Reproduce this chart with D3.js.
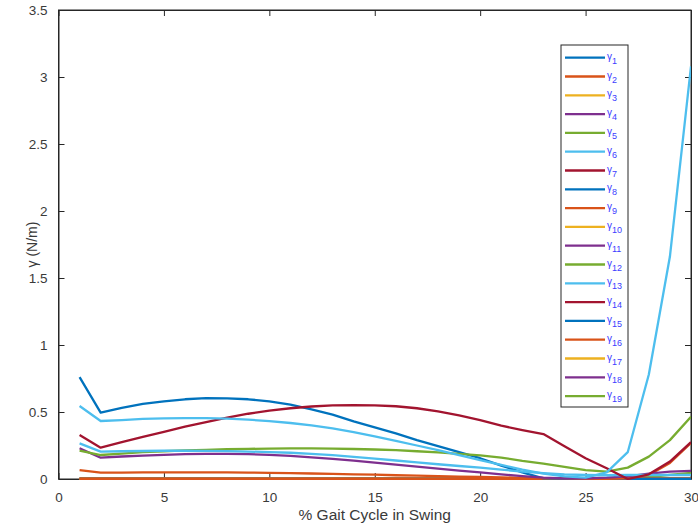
<!DOCTYPE html>
<html>
<head>
<meta charset="utf-8">
<script src="https://cdn.jsdelivr.net/npm/d3@7"></script>
<style>
  body { margin: 0; background: #fff; }
  svg { display: block; font-family: "Liberation Sans", Arial, sans-serif; }
</style>
</head>
<body>
<svg id="chart" width="698" height="529"></svg>
<script>
// % gait cycle in swing
var xValues = d3.range(1, 31);

var xTicks = [0, 5, 10, 15, 20, 25, 30];
var yTicks = [0, 0.5, 1, 1.5, 2, 2.5, 3, 3.5];

var zeros = xValues.map(function () { return 0; });

var gamma1 = [0.76, 0.495, 0.53, 0.56, 0.58, 0.595, 0.603, 0.602, 0.595, 0.58,
	0.555, 0.52, 0.48, 0.43, 0.385, 0.34, 0.29, 0.245, 0.2, 0.155,
	0.1, 0.05, 0.005, 0, 0, 0, 0, 0, 0, 0];
var gamma2 = [0.067, 0.047, 0.048, 0.049, 0.05, 0.05, 0.05, 0.049, 0.048, 0.046,
	0.044, 0.041, 0.038, 0.035, 0.032, 0.028, 0.025, 0.021, 0.018, 0.015,
	0.012, 0.009, 0.006, 0.004, 0.002, 0.002, 0.005, 0.03, 0.12, 0.27];
var gamma4 = [0.229, 0.159, 0.168, 0.175, 0.18, 0.185, 0.187, 0.187, 0.185, 0.18,
	0.172, 0.162, 0.15, 0.137, 0.122, 0.107, 0.092, 0.077, 0.063, 0.05,
	0.035, 0.022, 0.01, 0.005, 0.005, 0.01, 0.02, 0.04, 0.055, 0.06];
var gamma5 = [0.211, 0.179, 0.19, 0.2, 0.207, 0.213, 0.218, 0.222, 0.225, 0.227,
	0.228, 0.228, 0.227, 0.224, 0.22, 0.215, 0.207, 0.198, 0.188, 0.177,
	0.16, 0.135, 0.115, 0.09, 0.067, 0.055, 0.085, 0.167, 0.29, 0.465];
var gamma6 = [0.545, 0.433, 0.44, 0.448, 0.452, 0.455, 0.455, 0.45, 0.443, 0.432,
	0.418, 0.4, 0.378, 0.35, 0.318, 0.285, 0.25, 0.215, 0.178, 0.14,
	0.105, 0.07, 0.04, 0.02, 0.01, 0.05, 0.2, 0.78, 1.66, 3.08];
var gamma7 = [0.328, 0.234, 0.275, 0.315, 0.352, 0.39, 0.425, 0.458, 0.487, 0.51,
	0.528, 0.541, 0.549, 0.552, 0.55, 0.543, 0.528, 0.505, 0.475, 0.44,
	0.398, 0.365, 0.335, 0.245, 0.155, 0.08, 0, 0.035, 0.13, 0.275];
var gamma12 = [0, 0, 0, 0, 0, 0, 0, 0, 0, 0,
	0, 0, 0, 0, 0, 0, 0, 0, 0, 0,
	0, 0, 0, 0, 0, 0, 0, 0.015, 0.03, 0.045];
var gamma13 = [0.266, 0.204, 0.207, 0.209, 0.211, 0.211, 0.21, 0.208, 0.205, 0.2,
	0.196, 0.188, 0.178, 0.165, 0.152, 0.138, 0.124, 0.11, 0.097, 0.085,
	0.07, 0.055, 0.044, 0.035, 0.03, 0.028, 0.03, 0.03, 0.03, 0.03];

var seriesNames = d3.range(1, 20).map(function (i) { return "γ" + i; });
var seriesValues = [gamma1, gamma2, zeros, gamma4, gamma5, gamma6, gamma7,
	zeros, zeros, zeros, zeros, gamma12, gamma13, zeros,
	zeros, zeros, zeros, zeros, zeros];

// matlab default colour order, repeating
var colorOrder = ["#0072BD", "#D95319", "#EDB120", "#7E2F8E", "#77AC30", "#4DBEEE", "#A2142F"];

// flat lines under the others, so the orange one shows at the bottom
var drawOrder = [2, 7, 9, 10, 11, 13, 14, 16, 17, 18, 8, 15, 0, 1, 3, 4, 12, 6, 5];

var svg = d3.select("#chart");
var padLeft = 58.5, padRight = 691, padTop = 10, padBottom = 479;
var ink = "#262626";
var labelInk = "#3a3a3a";

var x = d3.scaleLinear().domain([0, 30]).range([padLeft, padRight]);
var y = d3.scaleLinear().domain([0, 3.5]).range([padBottom, padTop]);

svg.append("defs").append("clipPath").attr("id", "plotclip")
	.append("rect")
	.attr("x", padLeft).attr("y", padTop - 2)
	.attr("width", padRight - padLeft).attr("height", padBottom - padTop + 3);

// axes, matlab style ticks pointing in
var xAxis = svg.append("g")
	.attr("transform", "translate(0," + padBottom + ")")
	.call(d3.axisBottom(x).tickValues(xTicks).tickSize(-6).tickPadding(13).tickSizeOuter(0));
var xAxisTop = svg.append("g")
	.attr("transform", "translate(0," + padTop + ")")
	.call(d3.axisTop(x).tickValues(xTicks).tickSize(-6).tickFormat("").tickSizeOuter(0));
var yAxis = svg.append("g")
	.attr("transform", "translate(" + padLeft + ",0)")
	.call(d3.axisLeft(y).tickValues(yTicks).tickSize(-6).tickPadding(11).tickSizeOuter(0)
		.tickFormat(d3.format("")));
var yAxisRight = svg.append("g")
	.attr("transform", "translate(" + padRight + ",0)")
	.call(d3.axisRight(y).tickValues(yTicks).tickSize(-6).tickFormat("").tickSizeOuter(0));

[xAxis, xAxisTop, yAxis, yAxisRight].forEach(function (g) {
	g.select(".domain").attr("stroke", ink);
	g.selectAll(".tick line").attr("stroke", ink);
	g.selectAll(".tick text")
		.attr("fill", labelInk)
		.style("font-size", "13.5px")
		.style("font-family", "'Liberation Sans', Arial, sans-serif");
});

svg.append("rect")
	.attr("x", padLeft).attr("y", padTop)
	.attr("width", padRight - padLeft).attr("height", padBottom - padTop)
	.attr("fill", "none").attr("stroke", ink).attr("stroke-width", 1);

// lines
var line = d3.line()
	.x(function (d, i) { return x(xValues[i]); })
	.y(function (d) { return y(d); });

var plot = svg.append("g").attr("clip-path", "url(#plotclip)");
drawOrder.forEach(function (k) {
	plot.append("path")
		.datum(seriesValues[k])
		.attr("d", line)
		.attr("fill", "none")
		.attr("stroke", colorOrder[k % colorOrder.length])
		.attr("stroke-width", 2.3)
		.attr("stroke-linejoin", "round");
});

// axis labels
svg.append("text")
	.attr("x", (padLeft + padRight) / 2).attr("y", 520)
	.attr("text-anchor", "middle")
	.attr("fill", labelInk)
	.style("font-size", "15.5px")
	.text("% Gait Cycle in Swing");

svg.append("text")
	.attr("transform", "translate(37," + (padTop + padBottom) / 2 + ") rotate(-90)")
	.attr("text-anchor", "middle")
	.attr("fill", labelInk)
	.style("font-size", "14px")
	.text("γ (N/m)");

// legend
var legend = svg.append("g");
legend.append("rect")
	.attr("x", 561).attr("y", 45)
	.attr("width", 67).attr("height", 362)
	.attr("fill", "#fff").attr("stroke", ink).attr("stroke-width", 1);

seriesNames.forEach(function (name, i) {
	var ly = 57.7 + i * 18.8;
	legend.append("line")
		.attr("x1", 565).attr("x2", 605)
		.attr("y1", ly).attr("y2", ly)
		.attr("stroke", colorOrder[i % colorOrder.length])
		.attr("stroke-width", 2.3);
	var t = legend.append("text")
		.attr("x", 607).attr("y", ly + 2)
		.attr("fill", "#3c3cff")
		.style("font-size", "10px");
	t.append("tspan").text("γ");
	t.append("tspan").attr("dy", 4).style("font-size", "9px").text(String(i + 1));
});
</script>
</body>
</html>
